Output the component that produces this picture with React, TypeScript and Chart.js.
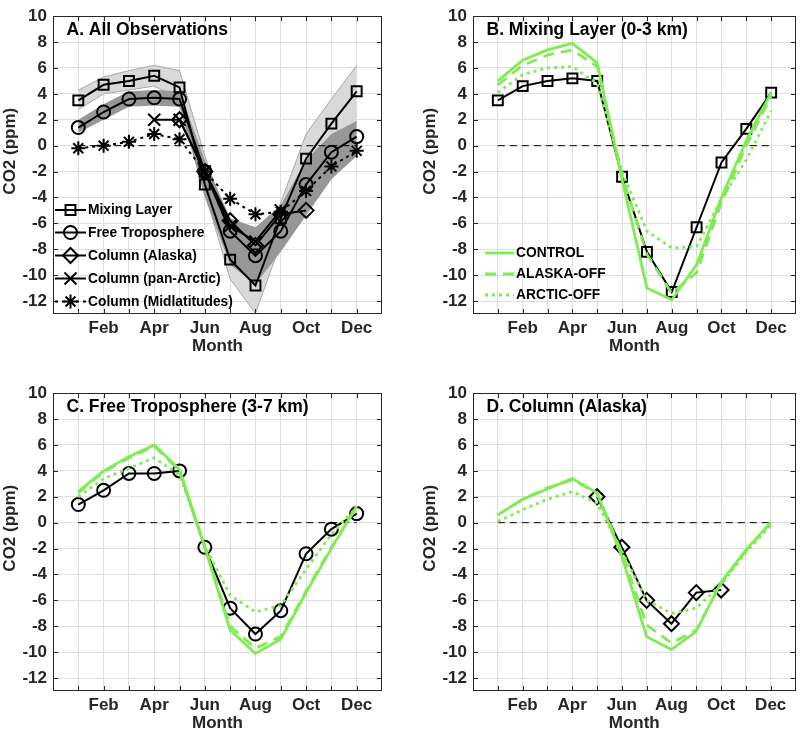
import React, { useEffect, useRef } from 'react';
import { Chart, registerables } from 'chart.js';

Chart.register(...registerables);

// ---------- shared axes data ----------
const MONTHS = [1, 2, 3, 4, 5, 6, 7, 8, 9, 10, 11, 12];
const MONTH_NAMES = ['Jan', 'Feb', 'Mar', 'Apr', 'May', 'Jun', 'Jul', 'Aug', 'Sep', 'Oct', 'Nov', 'Dec'];
const Y_TICKS = [-12, -10, -8, -6, -4, -2, 0, 2, 4, 6, 8, 10];
const ZERO_LINE = [0, 0, 0, 0, 0, 0, 0, 0, 0, 0, 0, 0];
const Y_TITLE = 'CO2 (ppm)';
const X_TITLE = 'Month';

// ---------- Panel A: All Observations ----------
const A_MIXING = [3.5, 4.7, 5.0, 5.4, 4.5, -3.0, -8.8, -10.8, -5.6, -1.0, 1.7, 4.2];
const A_FREE_TROP = [1.4, 2.6, 3.6, 3.7, 3.6, -2.0, -6.6, -8.5, -6.6, -3.0, -0.5, 0.7];
const A_COL_ALASKA = [null, null, null, null, 2.0, -2.0, -5.8, -7.7, -5.3, -5.0, null, null];
const A_COL_PANARCTIC = [null, null, null, 2.0, 2.0, -2.0, -6.2, -7.4, -5.0, null, null, null];
const A_COL_MIDLAT = [-0.2, 0.0, 0.3, 0.9, 0.5, -2.0, -4.1, -5.3, -5.1, -3.5, -1.6, -0.4];
const A_ML_BAND_HI = [4.3, 5.3, 5.8, 6.2, 5.8, -0.8, -6.5, -8.5, -4.4, 0.9, 3.6, 6.2];
const A_ML_BAND_LO = [2.8, 4.0, 4.3, 4.6, 3.6, -3.6, -10.3, -12.95, -7.5, -3.5, -0.5, 1.9];
const A_FT_BAND_HI = [2.0, 3.2, 4.2, 4.3, 4.2, -1.1, -5.6, -6.3, -4.6, -1.1, 0.9, 1.9];
const A_FT_BAND_LO = [1.0, 2.0, 3.0, 3.1, 3.0, -4.0, -9.2, -10.7, -8.2, -5.4, -2.6, -0.8];

// ---------- Panel B: Mixing Layer ----------
const B_OBS = [3.5, 4.6, 5.0, 5.2, 5.0, -2.4, -8.2, -11.3, -6.3, -1.3, 1.3, 4.1];
const B_CONTROL = [5.0, 6.6, 7.4, 7.9, 6.4, -2.6, -11.0, -11.9, -9.2, -4.0, 0.4, 4.1];
const B_ALASKA_OFF = [4.7, 6.2, 7.0, 7.4, 6.1, -2.3, -8.4, -11.4, -9.8, -4.4, 0.0, 3.8];
const B_ARCTIC_OFF = [4.1, 5.5, 6.0, 6.1, 4.8, -2.0, -6.6, -7.9, -7.8, -4.1, -1.1, 2.7];

// ---------- Panel C: Free Troposphere ----------
const C_OBS = [1.4, 2.5, 3.8, 3.8, 4.0, -1.9, -6.6, -8.6, -6.8, -2.4, -0.5, 0.7];
const C_CONTROL = [2.4, 4.0, 5.1, 6.0, 4.1, -1.9, -8.3, -10.1, -9.0, -5.4, -2.0, 1.3];
const C_ALASKA_OFF = [2.3, 3.9, 5.0, 5.9, 4.0, -1.9, -8.0, -9.7, -8.8, -5.3, -1.9, 1.2];
const C_ARCTIC_OFF = [2.0, 3.4, 4.2, 5.0, 3.7, -1.8, -5.6, -6.9, -6.4, -3.6, -0.9, 1.2];

// ---------- Panel D: Column (Alaska) ----------
const D_OBS = [null, null, null, null, 2.0, -1.9, -6.0, -7.8, -5.4, -5.2, null, null];
const D_CONTROL = [0.6, 1.8, 2.6, 3.4, 2.3, -2.6, -8.8, -9.8, -8.4, -4.6, -2.1, 0.0];
const D_ALASKA_OFF = [0.6, 1.8, 2.7, 3.3, 2.3, -2.3, -7.9, -9.3, -8.3, -4.7, -2.2, 0.0];
const D_ARCTIC_OFF = [0.1, 1.0, 1.8, 2.4, 1.5, -2.2, -6.0, -7.0, -6.6, -4.8, -2.3, -0.2];

// ---------- styles ----------
const FONT = "'Liberation Sans', Arial, Helvetica, sans-serif";
const AXIS_COLOR = '#262626';
const GRID_COLOR = '#dedede';
const GREEN = 'rgb(128,236,84)';
const LIGHT_BAND = '#d9d9d9';
const DARK_BAND = '#979797';

function pts(vals: (number | null)[]) {
  return MONTHS.map((m, i) => ({ x: m, y: vals[i] }));
}

function drawMarker(ctx: CanvasRenderingContext2D, style: string, x: number, y: number, r: number) {
  const s = r * Math.SQRT1_2;
  ctx.beginPath();
  switch (style) {
    case 'rect':
      ctx.rect(x - s, y - s, 2 * s, 2 * s);
      break;
    case 'circle':
      ctx.arc(x, y, r, 0, Math.PI * 2);
      break;
    case 'rectRot':
      ctx.moveTo(x - r, y);
      ctx.lineTo(x, y - r);
      ctx.lineTo(x + r, y);
      ctx.lineTo(x, y + r);
      ctx.closePath();
      break;
    case 'crossRot':
      ctx.moveTo(x - s, y - s);
      ctx.lineTo(x + s, y + s);
      ctx.moveTo(x - s, y + s);
      ctx.lineTo(x + s, y - s);
      break;
    case 'star':
      ctx.moveTo(x - s, y - s);
      ctx.lineTo(x + s, y + s);
      ctx.moveTo(x - s, y + s);
      ctx.lineTo(x + s, y - s);
      ctx.moveTo(x - r, y);
      ctx.lineTo(x + r, y);
      ctx.moveTo(x, y - r);
      ctx.lineTo(x, y + r);
      break;
    default:
      return;
  }
  ctx.stroke();
}

type LegendItem = {
  label: string;
  color: string;
  dash: number[];
  width: number;
  marker?: string;
  radius?: number;
};

type LegendSpec = {
  x0: number;
  x1: number;
  textX: number;
  rows: number[];
  items: LegendItem[];
};

function makeDeco(title: string, legend?: LegendSpec) {
  return {
    id: 'deco',
    afterDraw(chart: any) {
      const { ctx, chartArea: ca, scales } = chart;
      ctx.save();
      // inward tick marks on all four sides
      ctx.strokeStyle = AXIS_COLOR;
      ctx.lineWidth = 1;
      ctx.setLineDash([]);
      ctx.beginPath();
      MONTHS.forEach((m) => {
        const px = Math.round(scales.x.getPixelForValue(m)) + 0.5;
        ctx.moveTo(px, ca.bottom);
        ctx.lineTo(px, ca.bottom - 5);
        ctx.moveTo(px, ca.top);
        ctx.lineTo(px, ca.top + 5);
      });
      Y_TICKS.forEach((v) => {
        const py = Math.round(scales.y.getPixelForValue(v)) + 0.5;
        ctx.moveTo(ca.left, py);
        ctx.lineTo(ca.left + 5, py);
        ctx.moveTo(ca.right, py);
        ctx.lineTo(ca.right - 5, py);
      });
      ctx.stroke();
      ctx.strokeRect(
        Math.round(ca.left) + 0.5,
        Math.round(ca.top) + 0.5,
        Math.round(ca.right - ca.left) - 1,
        Math.round(ca.bottom - ca.top) - 1
      );
      // y axis title
      ctx.save();
      ctx.fillStyle = AXIS_COLOR;
      ctx.font = `bold 17px ${FONT}`;
      ctx.textAlign = 'center';
      ctx.textBaseline = 'middle';
      ctx.translate(10, ca.top + 135);
      ctx.rotate(-Math.PI / 2);
      ctx.fillText(Y_TITLE, 0, 0);
      ctx.restore();
      // panel title
      ctx.fillStyle = '#000';
      ctx.font = `bold 17.5px ${FONT}`;
      ctx.textBaseline = 'middle';
      ctx.textAlign = 'left';
      ctx.fillText(title, ca.left + 13.5, ca.top + 14);
      // legend
      if (legend) {
        legend.items.forEach((it, i) => {
          const y = legend.rows[i];
          ctx.strokeStyle = it.color;
          ctx.lineWidth = it.width;
          ctx.setLineDash(it.dash);
          ctx.beginPath();
          ctx.moveTo(legend.x0, y);
          ctx.lineTo(legend.x1, y);
          ctx.stroke();
          ctx.setLineDash([]);
          if (it.marker) {
            ctx.lineWidth = 2;
            drawMarker(ctx, it.marker, (legend.x0 + legend.x1) / 2, y, it.radius || 6);
          }
          ctx.fillStyle = '#000';
          ctx.font = `bold 13.8px ${FONT}`;
          ctx.textBaseline = 'middle';
          ctx.fillText(it.label, legend.textX, y + 0.5);
        });
      }
      ctx.restore();
    },
  };
}

function baseOptions(rightPad: number) {
  const tickFont = { family: FONT, size: 17, weight: 'bold' as const };
  return {
    responsive: false,
    animation: false as const,
    layout: { padding: { left: 0, right: rightPad, top: 10, bottom: 0 } },
    plugins: { legend: { display: false }, tooltip: { enabled: false } },
    elements: { line: { tension: 0 } },
    scales: {
      x: {
        type: 'linear' as const,
        min: 0,
        max: 13,
        afterBuildTicks: (s: any) => {
          s.ticks = MONTHS.map((v) => ({ value: v }));
        },
        afterFit: (s: any) => {
          s.height = 43;
        },
        grid: { color: GRID_COLOR, lineWidth: 1, drawTicks: false },
        border: { display: false },
        ticks: {
          padding: 4,
          color: AXIS_COLOR,
          font: tickFont,
          maxRotation: 0,
          autoSkip: false,
          callback: (v: any) => (Number(v) % 2 === 0 ? MONTH_NAMES[Number(v) - 1] : ''),
        },
        title: { display: true, text: X_TITLE, color: AXIS_COLOR, font: tickFont, padding: 0 },
      },
      y: {
        type: 'linear' as const,
        min: -13,
        max: 10,
        afterBuildTicks: (s: any) => {
          s.ticks = Y_TICKS.map((v) => ({ value: v }));
        },
        afterFit: (s: any) => {
          s.width = 53;
        },
        grid: { color: GRID_COLOR, lineWidth: 1, drawTicks: false },
        border: { display: false },
        ticks: { padding: 6, color: AXIS_COLOR, font: tickFont, callback: (v: any) => String(v) },
        title: { display: false },
      },
    },
  };
}

function zeroDataset(order: number) {
  return {
    data: pts(ZERO_LINE),
    borderColor: '#000',
    borderWidth: 1,
    borderDash: [7, 5],
    pointRadius: 0,
    fill: false,
    order,
  };
}

function obsDataset(vals: (number | null)[], marker: string, radius: number, order: number, dash: number[] = []) {
  return {
    data: pts(vals),
    borderColor: '#000',
    borderWidth: 2,
    borderDash: dash,
    pointStyle: marker,
    pointRadius: radius,
    pointBorderWidth: 2,
    pointBorderColor: '#000',
    pointBackgroundColor: 'rgba(0,0,0,0)',
    spanGaps: false,
    fill: false,
    order,
  };
}

function modelDataset(vals: number[], dash: number[], order: number) {
  return {
    data: pts(vals),
    borderColor: GREEN,
    borderWidth: 2.8,
    borderDash: dash,
    pointRadius: 0,
    fill: false,
    order,
  };
}

const DASHED = [11, 7];
const DOTTED = [3, 4];

function modelPanel(obs: (number | null)[], marker: string, radius: number, control: number[], alaska: number[], arctic: number[]) {
  return [
    zeroDataset(10),
    obsDataset(obs, marker, radius, 4),
    modelDataset(control, [], 3),
    modelDataset(alaska, DASHED, 2),
    modelDataset(arctic, DOTTED, 1),
  ];
}

function useChart(ref: React.RefObject<HTMLCanvasElement>, make: () => any) {
  useEffect(() => {
    if (!ref.current) return;
    const chart = new Chart(ref.current, make());
    return () => chart.destroy();
  }, []);
}

export default function App() {
  const refA = useRef<HTMLCanvasElement>(null);
  const refB = useRef<HTMLCanvasElement>(null);
  const refC = useRef<HTMLCanvasElement>(null);
  const refD = useRef<HTMLCanvasElement>(null);

  useChart(refA, () => ({
    type: 'line',
    data: {
      datasets: [
        { data: pts(A_ML_BAND_HI), fill: '+1', backgroundColor: LIGHT_BAND, borderColor: '#a8a8a8', borderWidth: 1, pointRadius: 0, order: 20 },
        { data: pts(A_ML_BAND_LO), fill: false, borderColor: '#a8a8a8', borderWidth: 1, pointRadius: 0, order: 19 },
        { data: pts(A_FT_BAND_HI), fill: '+1', backgroundColor: DARK_BAND, borderColor: DARK_BAND, borderWidth: 0, pointRadius: 0, order: 18 },
        { data: pts(A_FT_BAND_LO), fill: false, borderColor: DARK_BAND, borderWidth: 0, pointRadius: 0, order: 17 },
        zeroDataset(10),
        obsDataset(A_MIXING, 'rect', 7, 5),
        obsDataset(A_FREE_TROP, 'circle', 6.5, 4),
        obsDataset(A_COL_ALASKA, 'rectRot', 7.5, 3),
        obsDataset(A_COL_PANARCTIC, 'crossRot', 8.5, 2),
        obsDataset(A_COL_MIDLAT, 'star', 7, 1, [3, 4]),
      ],
    },
    options: baseOptions(18),
    plugins: [
      makeDeco('A. All Observations', {
        x0: 55,
        x1: 86,
        textX: 88,
        rows: [210, 232.5, 255.5, 278.5, 301.5],
        items: [
          { label: 'Mixing Layer', color: '#000', dash: [], width: 2, marker: 'rect', radius: 7 },
          { label: 'Free Troposphere', color: '#000', dash: [], width: 2, marker: 'circle', radius: 6.5 },
          { label: 'Column (Alaska)', color: '#000', dash: [], width: 2, marker: 'rectRot', radius: 7.5 },
          { label: 'Column (pan-Arctic)', color: '#000', dash: [], width: 2, marker: 'crossRot', radius: 8.5 },
          { label: 'Column (Midlatitudes)', color: '#000', dash: [3, 4], width: 2, marker: 'star', radius: 7 },
        ],
      }),
    ],
  }));

  const modelLegend: LegendSpec = {
    x0: 65,
    x1: 94,
    textX: 96,
    rows: [253, 274, 295],
    items: [
      { label: 'CONTROL', color: GREEN, dash: [], width: 2.8 },
      { label: 'ALASKA-OFF', color: GREEN, dash: DASHED, width: 2.8 },
      { label: 'ARCTIC-OFF', color: GREEN, dash: DOTTED, width: 2.8 },
    ],
  };

  useChart(refB, () => ({
    type: 'line',
    data: { datasets: modelPanel(B_OBS, 'rect', 7, B_CONTROL, B_ALASKA_OFF, B_ARCTIC_OFF) },
    options: baseOptions(3),
    plugins: [makeDeco('B. Mixing Layer (0-3 km)', modelLegend)],
  }));

  useChart(refC, () => ({
    type: 'line',
    data: { datasets: modelPanel(C_OBS, 'circle', 6.5, C_CONTROL, C_ALASKA_OFF, C_ARCTIC_OFF) },
    options: baseOptions(18),
    plugins: [makeDeco('C. Free Troposphere (3-7 km)')],
  }));

  useChart(refD, () => ({
    type: 'line',
    data: { datasets: modelPanel(D_OBS, 'rectRot', 7.5, D_CONTROL, D_ALASKA_OFF, D_ARCTIC_OFF) },
    options: baseOptions(3),
    plugins: [makeDeco('D. Column (Alaska)')],
  }));

  const cs = (left: number, top: number): React.CSSProperties => ({ position: 'absolute', left, top });

  return (
    <div style={{ position: 'absolute', left: 0, top: 0, width: 805, height: 735, background: '#fff', overflow: 'hidden' }}>
      <canvas ref={refA} width={400} height={357} style={cs(0, 0)} />
      <canvas ref={refB} width={385} height={357} style={cs(420, 0)} />
      <canvas ref={refC} width={400} height={357} style={cs(0, 377)} />
      <canvas ref={refD} width={385} height={357} style={cs(420, 377)} />
    </div>
  );
}
